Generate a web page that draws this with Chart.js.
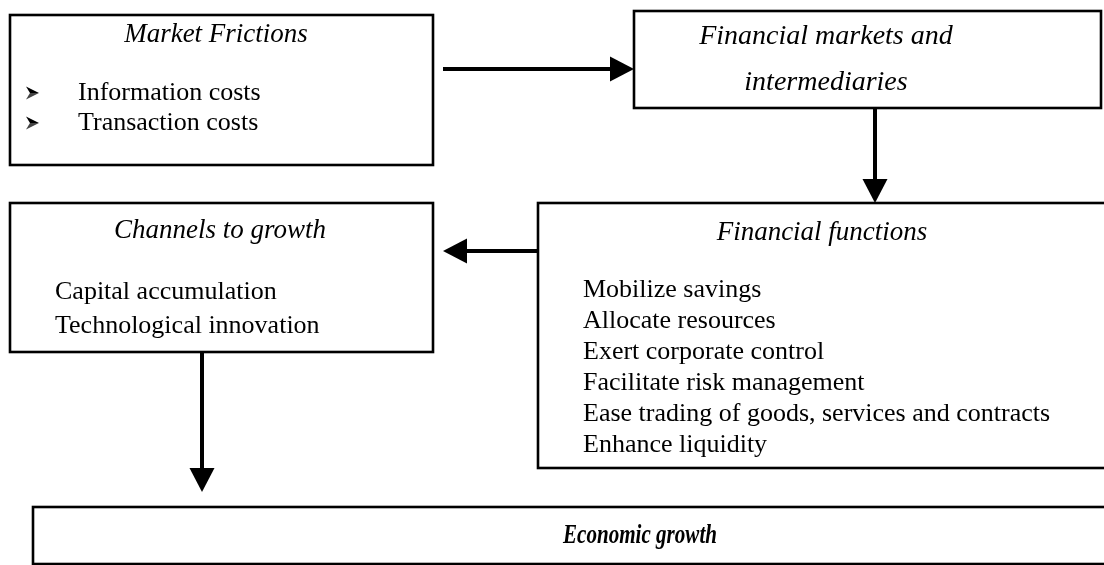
<!DOCTYPE html>
<html>
<head>
<meta charset="utf-8">
<script src="https://cdn.jsdelivr.net/npm/chart.js@4"></script>
<style>
  body { margin: 0; background: #fff; }
  #wrap { width: 1104px; height: 565px; }
</style>
</head>
<body>
<div id="wrap"><canvas id="flow" width="1104" height="565"></canvas></div>
<script>
// text content of the diagram
const frictionTitle = "Market Frictions";
const frictionItems = ["Information costs", "Transaction costs"];
const marketTitle = ["Financial markets and", "intermediaries"];
const channelTitle = "Channels to growth";
const channelItems = ["Capital accumulation", "Technological innovation"];
const functionTitle = "Financial functions";
const functionItems = [
  "Mobilize savings",
  "Allocate resources",
  "Exert corporate control",
  "Facilitate risk management",
  "Ease trading of goods, services and contracts",
  "Enhance liquidity"
];
const growthTitle = "Economic growth";

// layout, in scale units (x 0..1104, y 0..565 from top)
const boxes = [
  { x0: 10, y0: 15, x1: 433, y1: 165 },
  { x0: 634, y0: 11, x1: 1101, y1: 108 },
  { x0: 10, y0: 203, x1: 433, y1: 352 },
  { x0: 538, y0: 203, x1: 1112, y1: 468 },
  { x0: 33, y0: 507, x1: 1112, y1: 564 }
];
const arrows = [
  { from: [443, 69], to: [634, 69] },
  { from: [875, 108], to: [875, 203] },
  { from: [538, 251], to: [443, 251] },
  { from: [202, 352], to: [202, 492] }
];

const serif = '"Liberation Serif", "Times New Roman", serif';

// 3D arrowhead bullet like Wingdings "➢"
function bullet(ctx, x, y) {
  ctx.beginPath();
  ctx.moveTo(x, y - 6.5);
  ctx.lineTo(x + 13, y);
  ctx.lineTo(x + 4, y);
  ctx.closePath();
  ctx.fill();
  ctx.save();
  ctx.fillStyle = "#444";
  ctx.beginPath();
  ctx.moveTo(x + 4, y);
  ctx.lineTo(x + 13, y);
  ctx.lineTo(x, y + 6.5);
  ctx.closePath();
  ctx.fill();
  ctx.restore();
}

const diagram = {
  id: "diagram",
  afterDraw(chart) {
    const ctx = chart.ctx;
    const sx = chart.scales.x, sy = chart.scales.y;
    const px = v => sx.getPixelForValue(v);
    const py = v => sy.getPixelForValue(v);

    ctx.save();
    ctx.strokeStyle = "#000";
    ctx.fillStyle = "#000";

    // boxes
    ctx.lineWidth = 2.6;
    boxes.forEach(b => {
      ctx.strokeRect(px(b.x0), py(b.y0), px(b.x1) - px(b.x0), py(b.y1) - py(b.y0));
    });

    // arrows
    arrows.forEach(a => {
      const x0 = px(a.from[0]), y0 = py(a.from[1]);
      const x1 = px(a.to[0]), y1 = py(a.to[1]);
      const ang = Math.atan2(y1 - y0, x1 - x0);
      const headL = 24, headW = 12.5;
      const bx = x1 - headL * Math.cos(ang), by = y1 - headL * Math.sin(ang);
      ctx.lineWidth = 4;
      ctx.beginPath();
      ctx.moveTo(x0, y0);
      ctx.lineTo(bx, by);
      ctx.stroke();
      ctx.beginPath();
      ctx.moveTo(x1, y1);
      ctx.lineTo(bx - headW * Math.sin(ang), by + headW * Math.cos(ang));
      ctx.lineTo(bx + headW * Math.sin(ang), by - headW * Math.cos(ang));
      ctx.closePath();
      ctx.fill();
    });

    ctx.textBaseline = "middle";

    // Market Frictions
    ctx.textAlign = "center";
    ctx.font = "italic 27px " + serif;
    ctx.fillText(frictionTitle, px(216), py(35));
    ctx.textAlign = "left";
    ctx.font = "26px " + serif;
    frictionItems.forEach((t, i) => {
      bullet(ctx, px(26), py(93 + i * 30));
      ctx.fillText(t, px(78), py(93 + i * 30));
    });

    // Financial markets and intermediaries
    ctx.textAlign = "center";
    ctx.font = "italic 28px " + serif;
    marketTitle.forEach((t, i) => ctx.fillText(t, px(826), py(37 + i * 46)));

    // Channels to growth
    ctx.font = "italic 27px " + serif;
    ctx.fillText(channelTitle, px(220), py(231));
    ctx.textAlign = "left";
    ctx.font = "26px " + serif;
    channelItems.forEach((t, i) => ctx.fillText(t, px(55), py(292 + i * 34)));

    // Financial functions
    ctx.textAlign = "center";
    ctx.font = "italic 27px " + serif;
    ctx.fillText(functionTitle, px(822), py(233));
    ctx.textAlign = "left";
    ctx.font = "26px " + serif;
    functionItems.forEach((t, i) => ctx.fillText(t, px(583), py(290 + i * 31)));

    // Economic growth (narrow bold italic)
    ctx.save();
    ctx.translate(px(640), py(536));
    ctx.scale(0.78, 1);
    ctx.textAlign = "center";
    ctx.font = "bold italic 27px " + serif;
    ctx.fillText(growthTitle, 0, 0);
    ctx.restore();

    ctx.restore();
  }
};

new Chart(document.getElementById("flow"), {
  type: "scatter",
  data: { datasets: [{ data: [] }] },
  options: {
    responsive: false,
    animation: false,
    layout: { padding: 0 },
    plugins: { legend: { display: false }, tooltip: { enabled: false } },
    scales: {
      x: { type: "linear", min: 0, max: 1104, display: false },
      y: { type: "linear", min: 0, max: 565, reverse: true, display: false }
    }
  },
  plugins: [diagram]
});
</script>
</body>
</html>
